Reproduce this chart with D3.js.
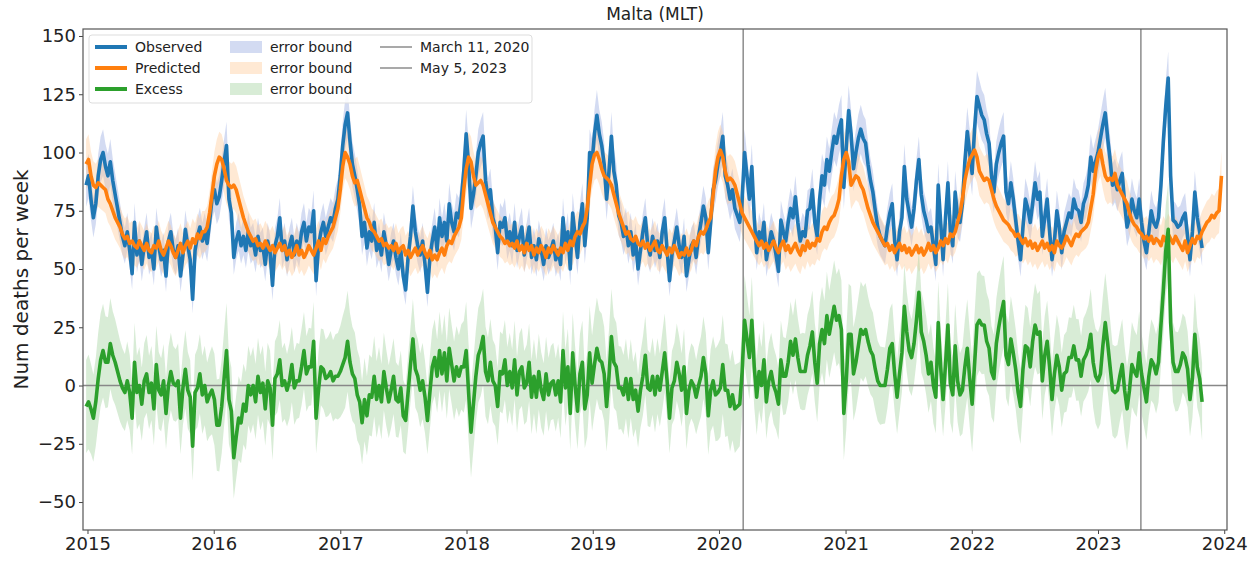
<!DOCTYPE html>
<html lang="en">
<head>
  <meta charset="UTF-8">
  <title>Malta (MLT)</title>
  <script src="https://d3js.org/d3.v7.min.js"></script>
  <style>
    body { margin: 0; background: white; font-family: "DejaVu Sans", sans-serif; }
    svg text { fill: #222; }
  </style>
</head>
<body>
  <svg id="chart" width="1259" height="561"></svg>

  <script>
    // weekly deaths, first week starts 2014-12-28
    const startDate = new Date(2014, 11, 28);

    const obs2015 = [86, 90, 80, 72, 78, 90, 97, 100, 94, 90, 96, 88, 82,
      76, 70, 64, 60, 66, 58, 48, 70, 56, 62, 52, 60, 66,
      55, 58, 50, 68, 60, 54, 58, 47, 62, 66, 58, 55, 60,
      47, 56, 67, 60, 54, 37, 58, 64, 68, 62, 66, 61, 70];
    const obs2016 = [80, 84, 78, 81, 88, 96, 103, 80, 74, 55, 62, 66, 60,
      64, 58, 66, 60, 62, 56, 64, 58, 60, 52, 62, 57, 43,
      60, 64, 72, 58, 62, 54, 60, 64, 56, 62, 58, 66, 70,
      62, 68, 66, 75, 45, 60, 66, 70, 64, 68, 72, 70, 76];
    const obs2017 = [80, 90, 103, 112, 117, 105, 95, 90, 84, 77, 64, 70, 59,
      66, 62, 70, 58, 62, 56, 66, 60, 52, 58, 62, 55, 50,
      58, 47, 41, 55, 64, 77, 66, 60, 56, 62, 52, 40, 55,
      62, 68, 58, 72, 64, 70, 62, 78, 70, 66, 74, 72, 80];
    const obs2018 = [92, 108, 95, 76, 82, 90, 100, 104, 107, 88, 80, 84, 72,
      68, 57, 70, 68, 72, 62, 66, 60, 70, 58, 64, 68, 56,
      62, 68, 55, 60, 54, 63, 58, 52, 60, 55, 58, 62, 54,
      58, 52, 72, 60, 66, 50, 74, 64, 55, 70, 78, 60, 72];
    const obs2019 = [100, 96, 108, 116, 108, 103, 95, 80, 92, 107, 92, 86, 73,
      70, 64, 68, 60, 66, 56, 62, 50, 58, 66, 72, 60, 56,
      64, 58, 62, 55, 66, 72, 58, 45, 56, 62, 68, 60, 55,
      64, 47, 54, 60, 62, 55, 64, 70, 77, 72, 57, 70, 84];
    const obs2020 = [88, 95, 100, 107, 90, 86, 80, 84, 76, 73, 70, 80, 100,
      90, 80, 94, 72, 57, 66, 62, 70, 54, 60, 66, 62, 56,
      49, 71, 66, 62, 70, 76, 72, 81, 70, 62, 66, 64, 75,
      76, 84, 70, 64, 80, 90, 86, 97, 92, 100, 107, 104, 110];
    const obs2021 = [114, 85, 102, 118, 108, 93, 100, 106, 110, 106, 104, 95, 88,
      83, 75, 68, 64, 62, 60, 68, 74, 78, 62, 54, 66, 72,
      94, 80, 74, 68, 76, 88, 97, 82, 75, 71, 66, 68, 60,
      52, 86, 70, 54, 72, 87, 66, 60, 83, 72, 70, 78, 96];
    const obs2022 = [109, 100, 91, 110, 124, 120, 116, 114, 108, 104, 90, 83, 95,
      100, 104, 107, 83, 78, 87, 80, 71, 62, 54, 68, 80, 76,
      70, 78, 87, 80, 83, 64, 72, 80, 66, 54, 62, 75, 68,
      57, 66, 70, 74, 72, 80, 76, 75, 70, 78, 81, 86, 98];
    const obs2023 = [92, 96, 100, 106, 112, 117, 106, 97, 86, 88, 84, 88, 91,
      78, 68, 72, 80, 75, 72, 80, 70, 62, 57, 66, 75, 70,
      68, 72, 86, 105, 120, 132, 90, 71, 70, 68, 69, 72, 74,
      64, 54, 66, 83, 72, 66, 59];

    const pred2015 = [95, 97, 90, 86, 85, 87, 86, 85, 84, 80, 78, 75, 72,
      70, 68, 65, 63, 64, 61, 62, 60, 59, 62, 60, 58, 61,
      58, 57, 60, 59, 62, 58, 56, 59, 62, 60, 57, 55, 58,
      61, 57, 60, 62, 59, 63, 61, 65, 63, 66, 66, 68, 74];
    const pred2016 = [82, 90, 95, 98, 97, 93, 88, 86, 85, 86, 84, 80, 76,
      72, 69, 66, 64, 62, 63, 60, 61, 59, 62, 60, 58, 60,
      57, 59, 61, 58, 60, 56, 58, 55, 57, 60, 56, 58, 55,
      57, 60, 58, 56, 59, 62, 58, 63, 61, 64, 66, 68, 72];
    const pred2017 = [76, 84, 94, 100, 98, 95, 90, 87, 88, 84, 80, 76, 72,
      70, 67, 66, 64, 62, 63, 60, 61, 59, 60, 58, 61, 57,
      59, 60, 56, 58, 55, 57, 59, 56, 58, 60, 57, 55, 58,
      54, 56, 54, 57, 59, 56, 60, 62, 61, 64, 66, 68, 72];
    const pred2018 = [84, 93, 98, 96, 90, 86, 87, 88, 86, 82, 78, 74, 70,
      68, 66, 64, 63, 61, 62, 60, 61, 59, 62, 58, 60, 57,
      61, 58, 60, 56, 59, 57, 60, 58, 55, 59, 57, 60, 58,
      56, 59, 57, 61, 58, 62, 60, 64, 66, 65, 68, 70, 76];
    const pred2019 = [86, 95, 99, 100, 97, 93, 90, 89, 88, 86, 82, 78, 74,
      71, 68, 65, 66, 63, 62, 64, 61, 60, 62, 59, 61, 58,
      60, 62, 58, 57, 60, 58, 56, 59, 57, 60, 58, 55, 57,
      56, 59, 56, 58, 62, 60, 64, 66, 65, 67, 70, 72, 82];
    const pred2020 = [92, 98, 101, 98, 92, 88, 89, 88, 86, 82, 78, 74, 72,
      70, 68, 66, 64, 62, 60, 62, 59, 61, 58, 60, 62, 59,
      57, 60, 62, 58, 60, 57, 59, 61, 58, 56, 60, 58, 62,
      59, 61, 60, 63, 62, 66, 68, 67, 70, 72, 73, 76, 80];
    const pred2021 = [90, 97, 100, 96, 86, 88, 90, 89, 86, 84, 80, 76, 73,
      70, 68, 66, 64, 62, 60, 61, 58, 60, 57, 59, 61, 58,
      60, 57, 59, 56, 58, 60, 57, 59, 56, 58, 61, 58, 60,
      57, 59, 62, 60, 63, 61, 65, 64, 66, 70, 74, 80, 88];
    const pred2022 = [93, 97, 99, 101, 98, 92, 90, 88, 89, 88, 84, 80, 77,
      75, 73, 71, 70, 69, 67, 66, 64, 65, 63, 61, 63, 60,
      62, 59, 61, 58, 60, 62, 59, 61, 58, 60, 57, 62, 60,
      59, 61, 64, 62, 60, 63, 65, 64, 66, 67, 68, 70, 76];
    const pred2023 = [82, 92, 98, 101, 95, 90, 88, 89, 88, 91, 86, 84, 82,
      80, 78, 74, 71, 69, 68, 66, 65, 63, 64, 62, 64, 61,
      63, 62, 60, 64, 62, 65, 63, 61, 64, 62, 60, 58, 62,
      57, 60, 63, 61, 64, 63, 66, 68, 70, 71, 73, 72, 74, 75, 90];

    const yTicks = [-50, -25, 0, 25, 50, 75, 100, 125, 150];
    const xTickYears = [2015, 2016, 2017, 2018, 2019, 2020, 2021, 2022, 2023, 2024];
    const markers = [
      { label: "March 11, 2020", date: new Date(2020, 2, 11) },
      { label: "May 5, 2023", date: new Date(2023, 4, 5) }
    ];
    const predErrScale = 1.1;

    const observed = [].concat(obs2015, obs2016, obs2017, obs2018, obs2019, obs2020, obs2021, obs2022, obs2023);
    const predicted = [].concat(pred2015, pred2016, pred2017, pred2018, pred2019, pred2020, pred2021, pred2022, pred2023);

    const weekDate = i => d3.timeDay.offset(startDate, 7 * i);
    const predRows = predicted.map((v, i) => ({ date: weekDate(i), v, e: predErrScale * Math.sqrt(v) }));
    const obsRows = observed.map((v, i) => ({ date: weekDate(i), v, e: Math.sqrt(v) }));
    const excessRows = obsRows.map((d, i) => ({
      date: d.date, v: d.v - predRows[i].v, e: d.e + predRows[i].e
    }));

    const svg = d3.select("#chart");
    const margin = { top: 29, right: 32, bottom: 31, left: 83 };
    const width = 1259 - margin.left - margin.right;
    const height = 561 - margin.top - margin.bottom;
    const g = svg.append("g").attr("transform", `translate(${margin.left},${margin.top})`);

    const x = d3.scaleTime()
      .domain([new Date(2014, 11, 19), new Date(2024, 0, 9)])
      .range([0, width]);
    const y = d3.scaleLinear().domain([-62, 153]).range([height, 0]);

    const colors = { obs: "#1f77b4", pred: "#ff7f0e", exc: "#2ca02c" };
    const bandFill = { obs: "#b6c3ea", pred: "#ffc894", exc: "#a9d4a3" };
    const bandOp = { obs: 0.6, pred: 0.4, exc: 0.45 };

    const band = d3.area().x(d => x(d.date)).y0(d => y(d.v - d.e)).y1(d => y(d.v + d.e));
    const line = d3.line().x(d => x(d.date)).y(d => y(d.v));

    g.append("path").datum(obsRows).attr("d", band).attr("fill", bandFill.obs).attr("opacity", bandOp.obs);
    g.append("path").datum(predRows).attr("d", band).attr("fill", bandFill.pred).attr("opacity", bandOp.pred);
    g.append("path").datum(excessRows).attr("d", band).attr("fill", bandFill.exc).attr("opacity", bandOp.exc);

    g.append("line")
      .attr("x1", 0).attr("x2", width).attr("y1", y(0)).attr("y2", y(0))
      .attr("stroke", "#888").attr("stroke-width", 1.5);

    g.selectAll(".marker").data(markers).enter().append("line")
      .attr("x1", d => x(d.date)).attr("x2", d => x(d.date))
      .attr("y1", 0).attr("y2", height)
      .attr("stroke", "#8c8c8c").attr("stroke-width", 1.5);

    [[obsRows, colors.obs], [predRows, colors.pred], [excessRows, colors.exc]].forEach(([rows, c]) => {
      g.append("path").datum(rows).attr("d", line)
        .attr("fill", "none").attr("stroke", c).attr("stroke-width", 3.6)
        .attr("stroke-linejoin", "round");
    });

    // axes
    const xAxis = g.append("g").attr("transform", `translate(0,${height})`)
      .call(d3.axisBottom(x).tickValues(xTickYears.map(yr => new Date(yr, 0, 1)))
        .tickFormat(d3.timeFormat("%Y")).tickSizeOuter(0).tickSize(4).tickPadding(3));
    const yAxis = g.append("g")
      .call(d3.axisLeft(y).tickValues(yTicks).tickFormat(d => d < 0 ? "\u2212" + Math.abs(d) : d)
        .tickSizeOuter(0).tickSize(4).tickPadding(3));
    [xAxis, yAxis].forEach(a => {
      a.select(".domain").remove();
      a.selectAll("line").attr("stroke", "#444");
      a.selectAll("text").attr("font-size", 18).attr("font-family", "DejaVu Sans");
    });

    g.append("rect").attr("width", width).attr("height", height)
      .attr("fill", "none").attr("stroke", "#555").attr("stroke-width", 1.2);

    svg.append("text").attr("x", margin.left + width / 2).attr("y", 20)
      .attr("text-anchor", "middle").attr("font-size", 17).text("Malta (MLT)");

    svg.append("text")
      .attr("transform", `translate(28,${margin.top + height / 2}) rotate(-90)`)
      .attr("text-anchor", "middle").attr("font-size", 20).text("Num deaths per week");

    // legend
    const legend = g.append("g").attr("transform", "translate(6,6)");
    legend.append("rect").attr("width", 443).attr("height", 68).attr("rx", 3)
      .attr("fill", "white").attr("fill-opacity", 0.85).attr("stroke", "#ddd");
    const legendItems = [
      { col: 0, row: 0, type: "line", color: colors.obs, width: 4, label: "Observed" },
      { col: 0, row: 1, type: "line", color: colors.pred, width: 4, label: "Predicted" },
      { col: 0, row: 2, type: "line", color: colors.exc, width: 4, label: "Excess" },
      { col: 1, row: 0, type: "patch", color: bandFill.obs, op: bandOp.obs, label: "error bound" },
      { col: 1, row: 1, type: "patch", color: bandFill.pred, op: bandOp.pred, label: "error bound" },
      { col: 1, row: 2, type: "patch", color: bandFill.exc, op: bandOp.exc, label: "error bound" },
      { col: 2, row: 0, type: "line", color: "#8c8c8c", width: 1.5, label: markers[0].label },
      { col: 2, row: 1, type: "line", color: "#8c8c8c", width: 1.5, label: markers[1].label }
    ];
    const colX = [6, 141, 291];
    legendItems.forEach(d => {
      const lx = colX[d.col], ly = 12 + d.row * 21;
      if (d.type === "line") {
        legend.append("line").attr("x1", lx).attr("x2", lx + 32).attr("y1", ly).attr("y2", ly)
          .attr("stroke", d.color).attr("stroke-width", d.width);
      } else {
        legend.append("rect").attr("x", lx).attr("y", ly - 6).attr("width", 32).attr("height", 12)
          .attr("fill", d.color).attr("opacity", d.op);
      }
      legend.append("text").attr("x", lx + 40).attr("y", ly + 5)
        .attr("font-size", 14).text(d.label);
    });
  </script>
</body>
</html>
